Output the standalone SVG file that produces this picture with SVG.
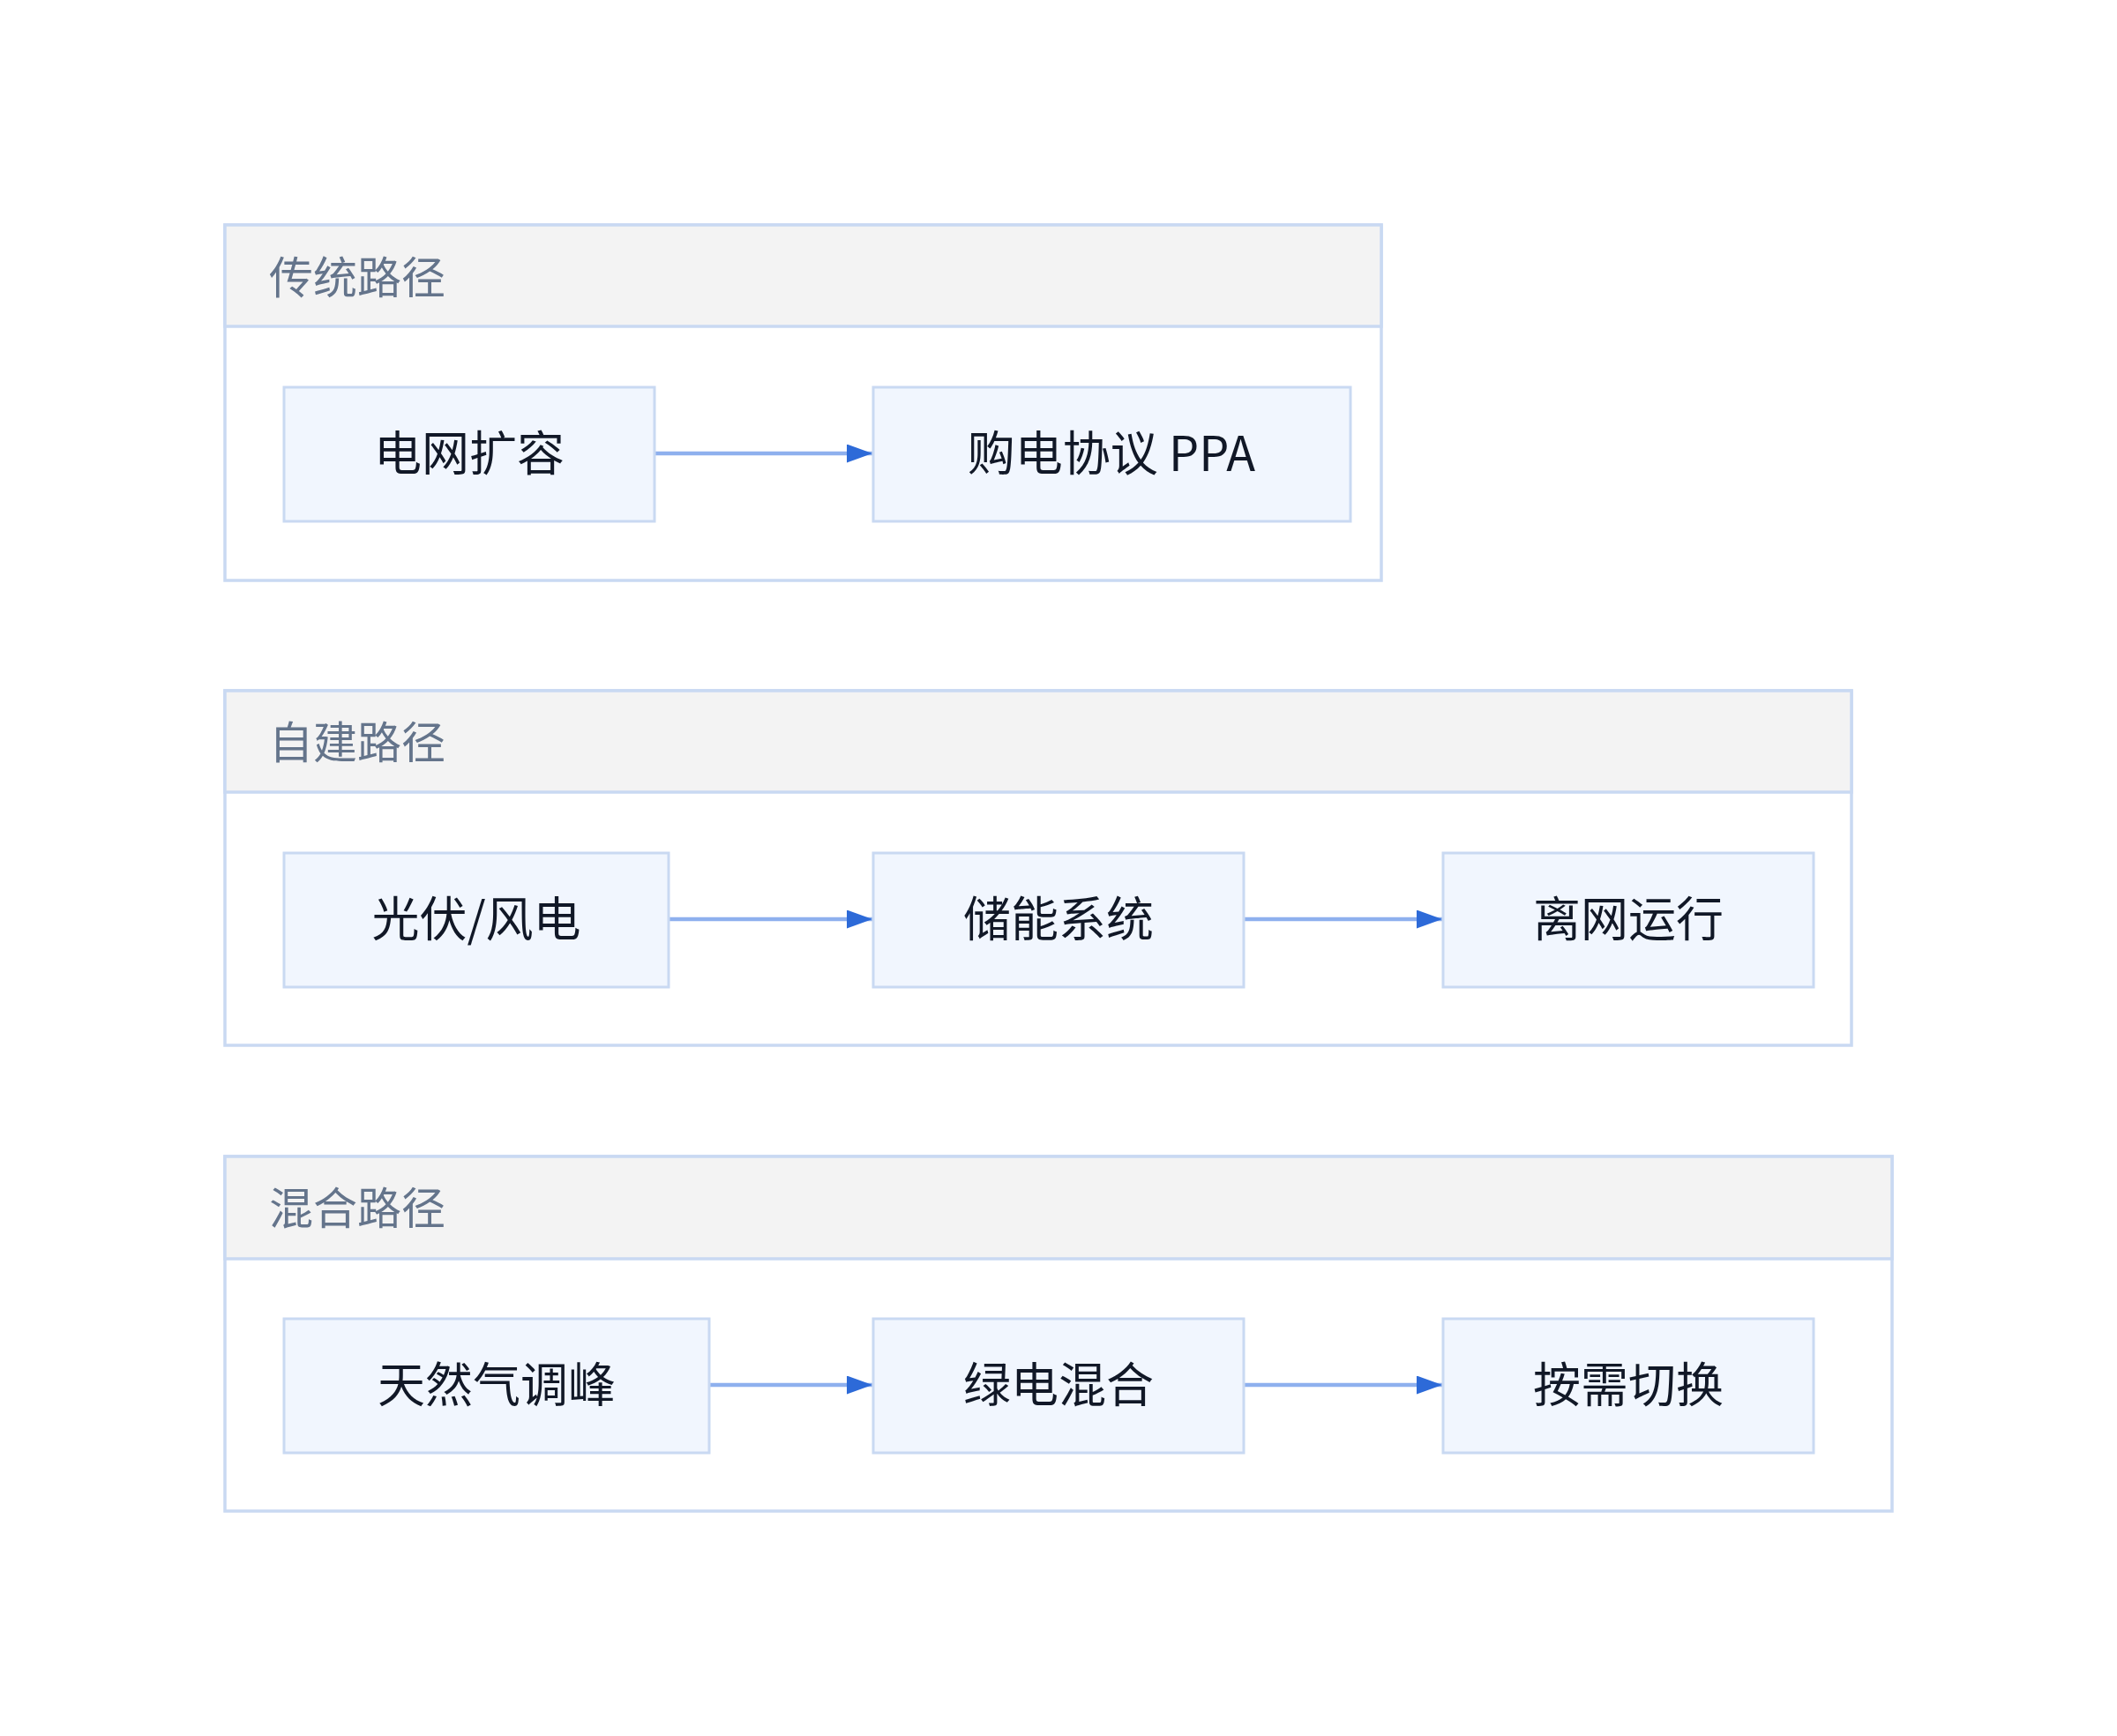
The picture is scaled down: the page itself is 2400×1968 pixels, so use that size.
<svg xmlns="http://www.w3.org/2000/svg" width="2400" height="1968" viewBox="0 0 2400 1968">
<defs>
<style>
.cl{fill:#ffffff;stroke:#c9d9f2;stroke-width:3.5}
.hd{fill:#f3f3f3;stroke:#c9d9f2;stroke-width:3.5}
.nd{fill:#f1f6fe;stroke:#c9d9f2;stroke-width:3}
.tt{font-family:"Noto Sans CJK SC","Noto Sans",sans-serif;font-size:50px;fill:#64748b}
.nt{font-family:"Noto Sans CJK SC","Noto Sans",sans-serif;font-size:54px;fill:#111827;text-anchor:middle}
.ed{stroke:#8eb0ee;stroke-width:4.5;fill:none}
</style>
<marker id="ah" markerUnits="userSpaceOnUse" markerWidth="29" markerHeight="21" refX="29" refY="10.5" orient="auto">
<path d="M0,0 L29,10.5 L0,21 Z" fill="#2d6ad8"/>
</marker>
</defs>
<rect width="2400" height="1968" fill="#ffffff"/>

<g id="cluster-traditional">
<rect class="cl" x="255" y="255" width="1311" height="403"/>
<rect class="hd" x="255" y="255" width="1311" height="115"/>
<text class="tt" x="305" y="333">传统路径</text>
</g>
<g id="cluster-selfbuilt">
<rect class="cl" x="255" y="783" width="1844" height="402"/>
<rect class="hd" x="255" y="783" width="1844" height="115"/>
<text class="tt" x="305" y="860">自建路径</text>
</g>
<g id="cluster-hybrid">
<rect class="cl" x="255" y="1311" width="1890" height="402"/>
<rect class="hd" x="255" y="1311" width="1890" height="116"/>
<text class="tt" x="305" y="1388">混合路径</text>
</g>

<g id="connectors">
<line class="ed" x1="743" y1="514" x2="989" y2="514" marker-end="url(#ah)"/>
<line class="ed" x1="759" y1="1042" x2="989" y2="1042" marker-end="url(#ah)"/>
<line class="ed" x1="1411" y1="1042" x2="1635" y2="1042" marker-end="url(#ah)"/>
<line class="ed" x1="805" y1="1570" x2="989" y2="1570" marker-end="url(#ah)"/>
<line class="ed" x1="1411" y1="1570" x2="1635" y2="1570" marker-end="url(#ah)"/>
</g>

<g id="node-grid">
<rect class="nd" x="322" y="439" width="420" height="152"/>
<text class="nt" x="532" y="534">电网扩容</text>
</g>
<g id="node-ppa">
<rect class="nd" x="990" y="439" width="541" height="152"/>
<text class="nt" x="1260" y="534">购电协议 PPA</text>
</g>
<g id="node-pv">
<rect class="nd" x="322" y="967" width="436" height="152"/>
<text class="nt" x="540" y="1062">光伏/风电</text>
</g>
<g id="node-storage">
<rect class="nd" x="990" y="967" width="420" height="152"/>
<text class="nt" x="1200" y="1062">储能系统</text>
</g>
<g id="node-offgrid">
<rect class="nd" x="1636" y="967" width="420" height="152"/>
<text class="nt" x="1846" y="1062">离网运行</text>
</g>
<g id="node-gas">
<rect class="nd" x="322" y="1495" width="482" height="152"/>
<text class="nt" x="563" y="1590">天然气调峰</text>
</g>
<g id="node-green">
<rect class="nd" x="990" y="1495" width="420" height="152"/>
<text class="nt" x="1200" y="1590">绿电混合</text>
</g>
<g id="node-switch">
<rect class="nd" x="1636" y="1495" width="420" height="152"/>
<text class="nt" x="1846" y="1590">按需切换</text>
</g>
</svg>
